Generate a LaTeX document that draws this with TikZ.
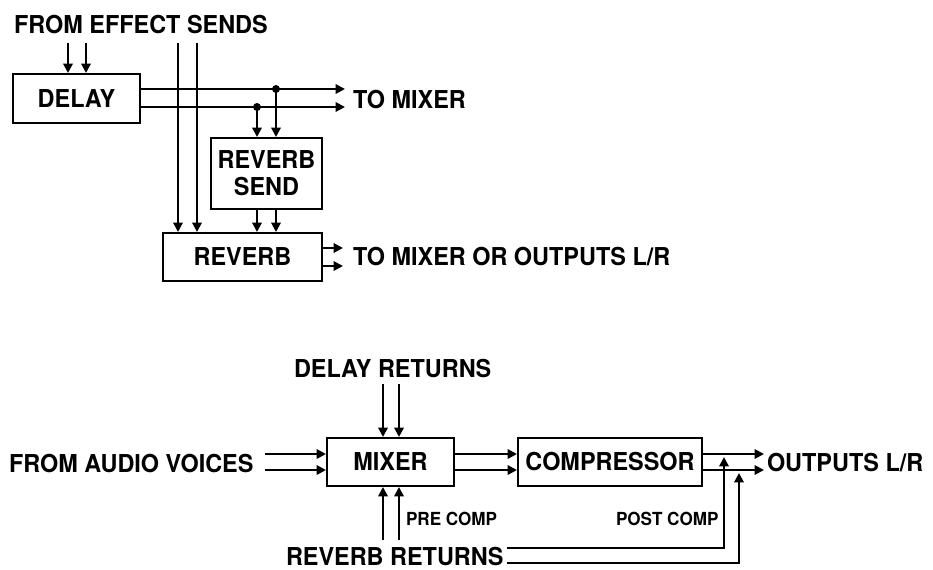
\documentclass[tikz,border=0pt]{standalone}
\usepackage{fontspec}
\setmainfont{TeX Gyre Heros}[FakeStretch=0.95]
\usetikzlibrary{arrows.meta,calc}
\begin{document}
\begin{tikzpicture}[x=0.75pt,y=-0.75pt,
  line width=1.5pt,
  box/.style={draw,inner sep=0pt,font=\fontsize{18.5}{20.25}\selectfont\bfseries,align=center},
  lbl/.style={inner sep=0pt,anchor=base west,font=\fontsize{18.5}{20}\selectfont\bfseries},
  small/.style={inner sep=0pt,anchor=base west,font=\fontsize{13.5}{15}\selectfont\bfseries},
  arr/.style={-{Triangle[length=7pt,width=7pt]}},
  dot/.style={fill,circle,inner sep=0pt,minimum size=6pt}]
\useasboundingbox (0,0) rectangle (933,569);
% boxes
\node[box,minimum width=95.25pt,minimum height=36.75pt] (delay) at (76.5,98.5) {DELAY};
\node[box,minimum width=83.25pt,minimum height=53.25pt] (rsend) at (266.5,173.5) {REVERB\\SEND};
\node[box,minimum width=119.25pt,minimum height=36pt] (reverb) at (242.5,257) {REVERB};
\node[box,minimum width=95.25pt,minimum height=36pt] (mixer) at (390.5,462) {MIXER};
\node[box,minimum width=138pt,minimum height=36pt] (comp) at (610,462) {COMPRESSOR};
% labels
\node[lbl] (fes) at (13,33) {FROM EFFECT SENDS};
\node[lbl] (tomix) at (352,108) {TO MIXER};
\node[lbl] (tomixout) at (352,265) {TO MIXER OR OUTPUTS L/R};
\node[lbl] (dret) at (293,377) {DELAY RETURNS};
\node[lbl] (fav) at (8,472) {FROM AUDIO VOICES};
\node[lbl] (outs) at (766,471) {OUTPUTS L/R};
\node[small] (pre) at (405,525) {PRE COMP};
\node[small] (post) at (615,525) {POST COMP};
\node[lbl] (rret) at (285,565) {REVERB RETURNS};
% coordinates
\coordinate (fa) at (68,43);
\coordinate (fb) at (86,43);
\coordinate (la) at (178,43);
\coordinate (lb) at (197,43);
\coordinate (o1) at (345,89);
\coordinate (o2) at (345,107);
\coordinate (d1) at (276,89);
\coordinate (d2) at (257,107);
\coordinate (r1) at (343,248);
\coordinate (r2) at (343,266);
\coordinate (dra) at (383,384);
\coordinate (drb) at (399,384);
\coordinate (ava) at (265,454);
\coordinate (avb) at (265,470);
\coordinate (oa) at (764,454);
\coordinate (ob) at (764,470);
\coordinate (rra) at (383,540);
\coordinate (rrb) at (399,540);
\coordinate (pa) at (507,548);
\coordinate (pb) at (507,563);
\coordinate (ta) at (724,457);
\coordinate (tb) at (739,473);
% top connectors
\draw[arr] (fa) -- (fa |- delay.north);
\draw[arr] (fb) -- (fb |- delay.north);
\draw[arr] (la) -- (la |- reverb.north);
\draw[arr] (lb) -- (lb |- reverb.north);
\draw[arr] (delay.east |- o1) -- (o1);
\draw[arr] (delay.east |- o2) -- (o2);
\node[dot] (dotA) at (d1) {};
\node[dot] (dotB) at (d2) {};
\draw[arr] (dotA.center) -- (d1 |- rsend.north);
\draw[arr] (dotB.center) -- (d2 |- rsend.north);
\draw[arr] (d1 |- rsend.south) -- (d1 |- reverb.north);
\draw[arr] (d2 |- rsend.south) -- (d2 |- reverb.north);
\draw[arr] (reverb.east |- r1) -- (r1);
\draw[arr] (reverb.east |- r2) -- (r2);
% bottom connectors
\draw[arr] (dra) -- (dra |- mixer.north);
\draw[arr] (drb) -- (drb |- mixer.north);
\draw[arr] (ava) -- (mixer.west |- ava);
\draw[arr] (avb) -- (mixer.west |- avb);
\draw[arr] (mixer.east |- ava) -- (comp.west |- ava);
\draw[arr] (mixer.east |- avb) -- (comp.west |- avb);
\draw[arr] (comp.east |- oa) -- (oa);
\draw[arr] (comp.east |- ob) -- (ob);
\draw[arr] (rra) -- (rra |- mixer.south);
\draw[arr] (rrb) -- (rrb |- mixer.south);
\draw[arr] (pa) -- (ta |- pa) -- (ta);
\draw[arr] (pb) -- (tb |- pb) -- (tb);
\end{tikzpicture}
\end{document}
